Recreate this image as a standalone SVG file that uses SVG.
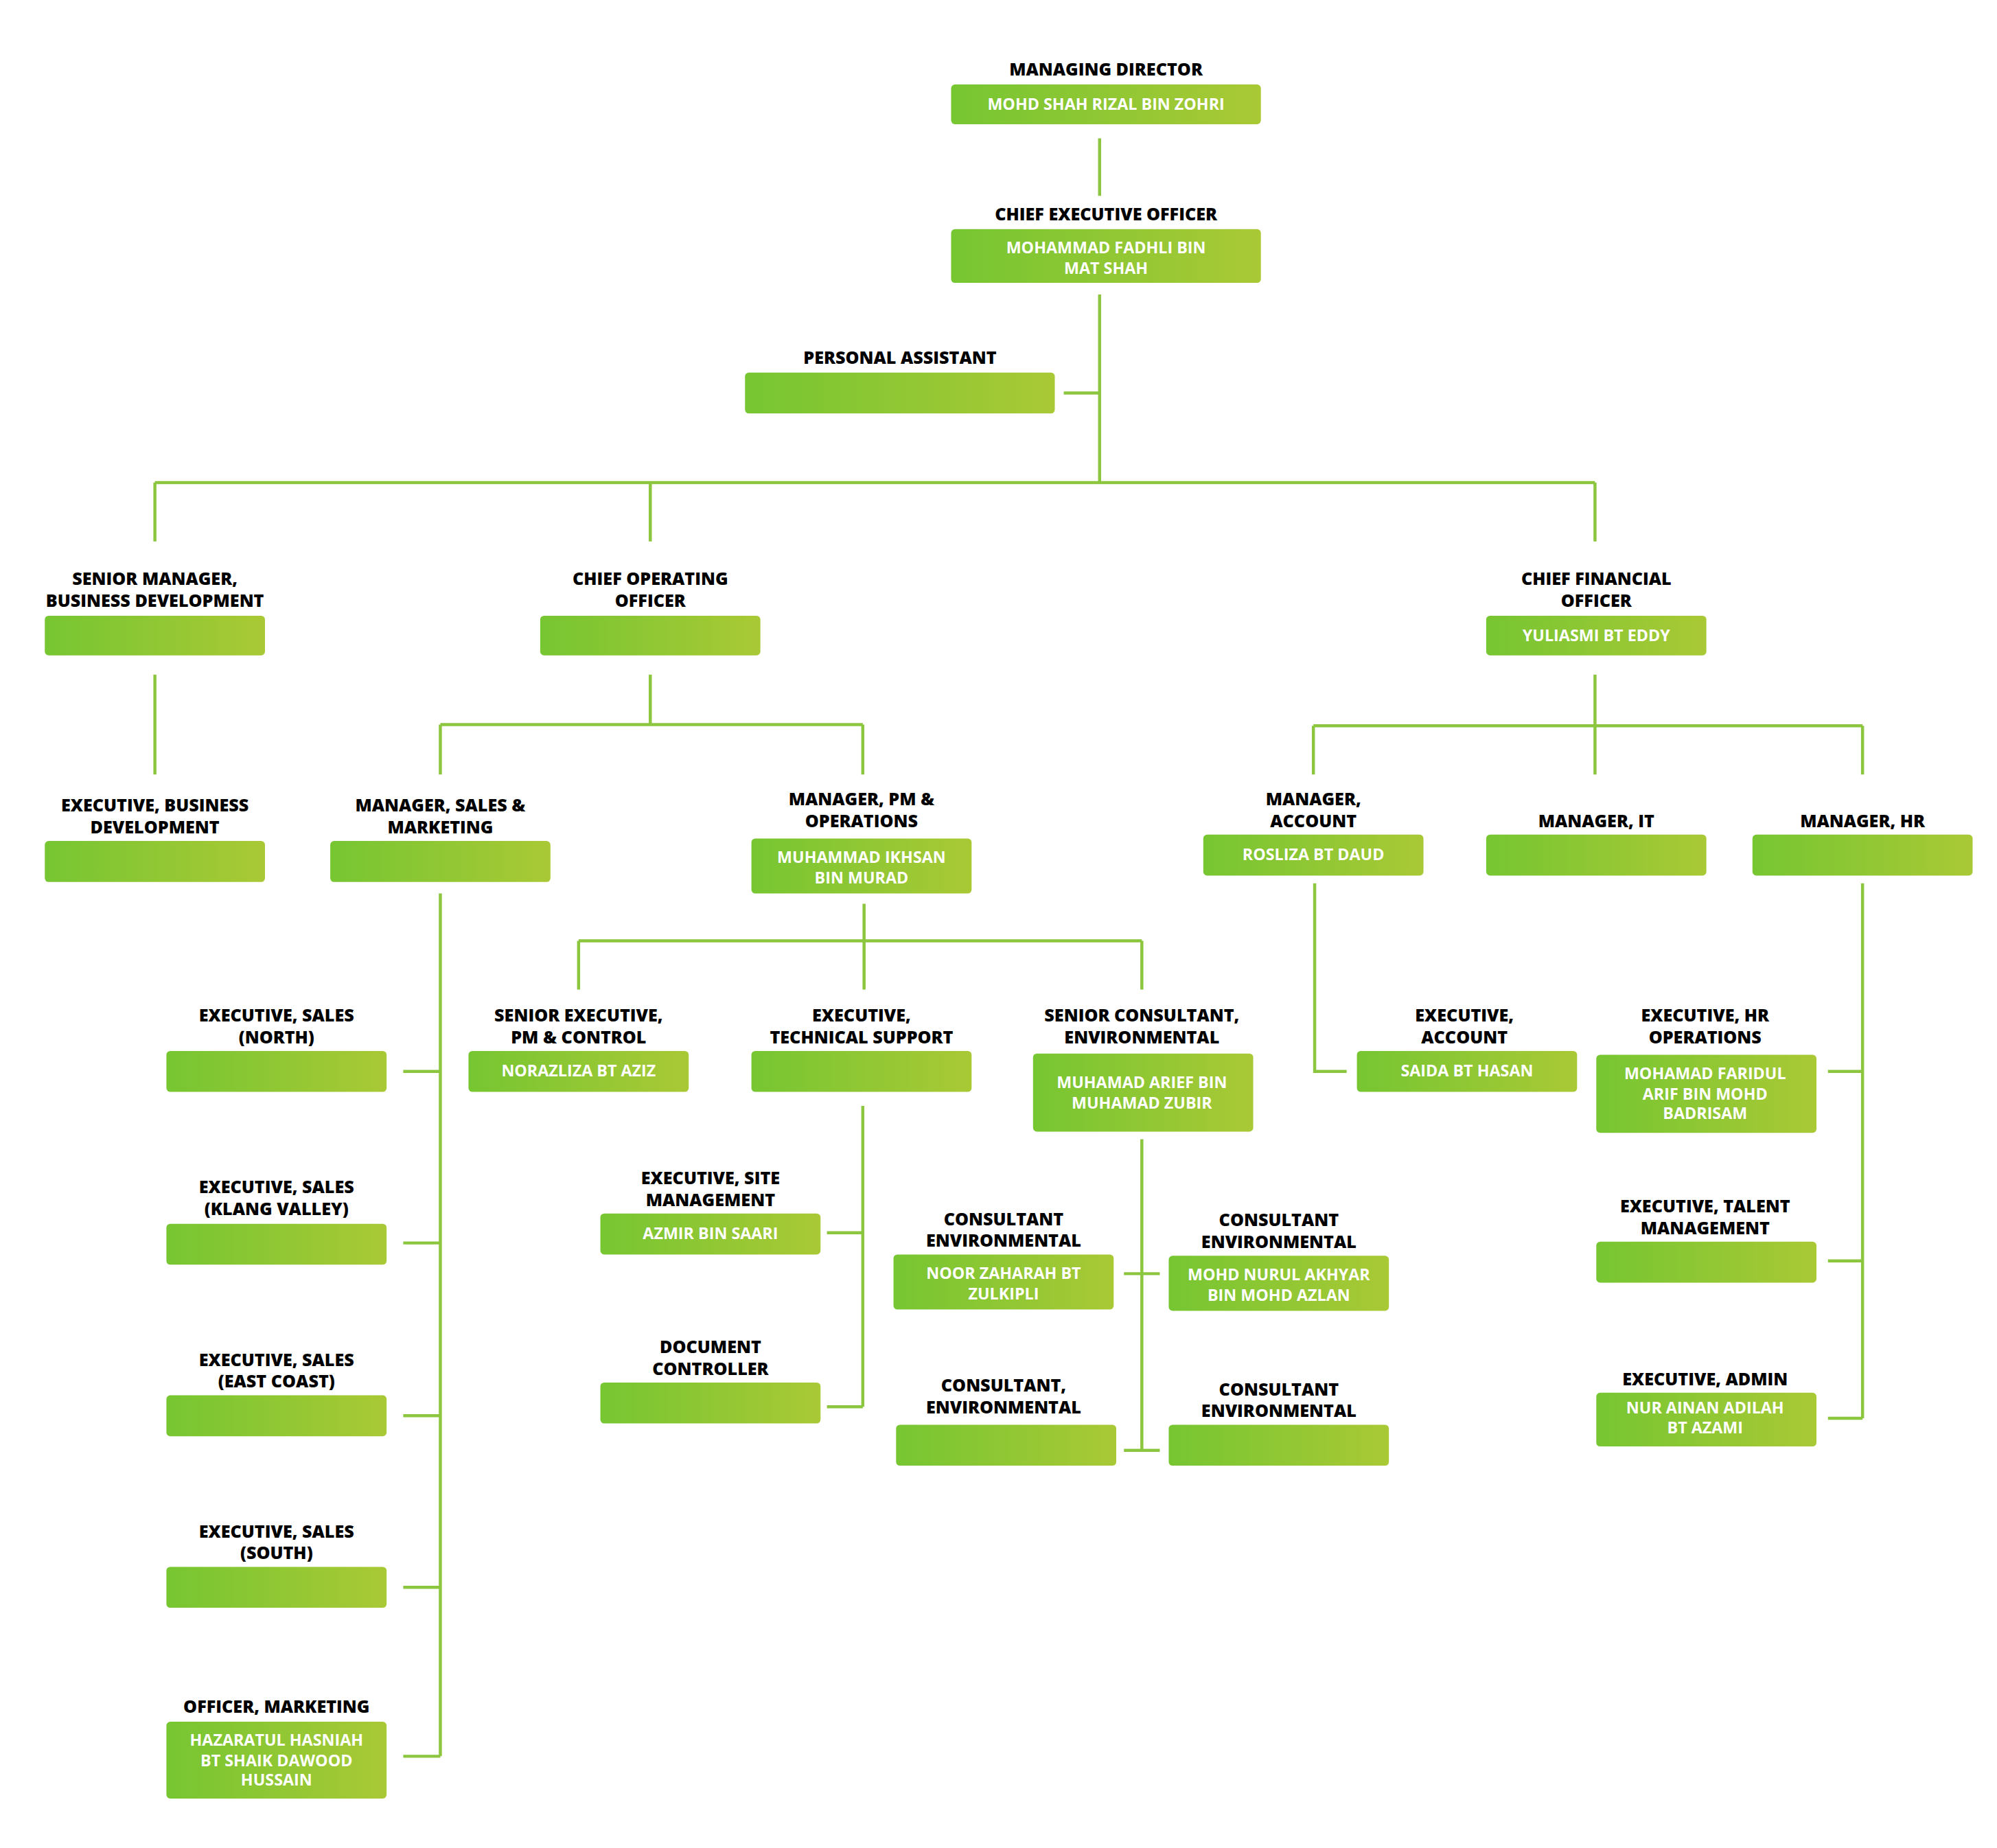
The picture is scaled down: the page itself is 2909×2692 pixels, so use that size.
<svg xmlns="http://www.w3.org/2000/svg" width="2909" height="2692" viewBox="0 0 2909 2692">
<defs>
<linearGradient id="g" x1="0" y1="0" x2="1" y2="0"><stop offset="0" stop-color="#76c632"/><stop offset="1" stop-color="#a9c935"/></linearGradient>
<style>
.b{fill:url(#g)}
.t{font-family:"Open Sans","Liberation Sans",sans-serif;font-weight:800;font-size:13.5px;fill:#000;text-anchor:middle}
.n{font-family:"Open Sans","Liberation Sans",sans-serif;font-weight:700;font-size:12.5px;fill:#fff;text-anchor:middle}
.c{fill:none;stroke:#8cc63f;stroke-width:2.4}
</style>
</defs>
<rect width="2909" height="2692" fill="#fff"/>
<g transform="scale(1.8647)">
<g id="connectors" class="c">
<path d="M859 108V153M859 230V377M831 307H859M121 377H1246M121 377V423M508 377V423M1246 377V423"/>
<path d="M121 527V605M508 527V566M344 566H674M344 566V605M674 566V605"/>
<path d="M1246 527V605M1026 567H1455M1026 567V605M1455 567V605"/>
<path d="M344 698V1372M315 837H344M315 971H344M315 1106H344M315 1240H344M315 1372H344"/>
<path d="M675 706V735M452 735H892M452 735V773M675 735V773M892 735V773"/>
<path d="M674 864V1099M646 963H674M646 1099H674"/>
<path d="M892 890V1133M878 995H906M878 1133H906"/>
<path d="M1027 690V837H1052"/>
<path d="M1455 690V1108M1428 837H1455M1428 985H1455M1428 1108H1455"/>
</g>
<g id="md"><text class="t" x="864" y="59">MANAGING DIRECTOR</text><rect class="b" x="743" y="66" width="242" height="31" rx="3"/><text class="n" x="864" y="86">MOHD SHAH RIZAL BIN ZOHRI</text></g>
<g id="ceo"><text class="t" x="864" y="172">CHIEF EXECUTIVE OFFICER</text><rect class="b" x="743" y="179" width="242" height="42" rx="3"/><text class="n" x="864" y="198">MOHAMMAD FADHLI BIN</text><text class="n" x="864" y="214">MAT SHAH</text></g>
<g id="pa"><text class="t" x="703" y="284">PERSONAL ASSISTANT</text><rect class="b" x="582" y="291" width="242" height="32" rx="3"/></g>
<g id="smbd"><text class="t" x="121" y="457">SENIOR MANAGER,</text><text class="t" x="121" y="474">BUSINESS DEVELOPMENT</text><rect class="b" x="35" y="481" width="172" height="31" rx="3"/></g>
<g id="coo"><text class="t" x="508" y="457">CHIEF OPERATING</text><text class="t" x="508" y="474">OFFICER</text><rect class="b" x="422" y="481" width="172" height="31" rx="3"/></g>
<g id="cfo"><text class="t" x="1247" y="457">CHIEF FINANCIAL</text><text class="t" x="1247" y="474">OFFICER</text><rect class="b" x="1161" y="481" width="172" height="31" rx="3"/><text class="n" x="1247" y="501">YULIASMI BT EDDY</text></g>
<g id="ebd"><text class="t" x="121" y="634">EXECUTIVE, BUSINESS</text><text class="t" x="121" y="651">DEVELOPMENT</text><rect class="b" x="35" y="657" width="172" height="32" rx="3"/></g>
<g id="msm"><text class="t" x="344" y="634">MANAGER, SALES &amp;</text><text class="t" x="344" y="651">MARKETING</text><rect class="b" x="258" y="657" width="172" height="32" rx="3"/></g>
<g id="mpm"><text class="t" x="673" y="629">MANAGER, PM &amp;</text><text class="t" x="673" y="646">OPERATIONS</text><rect class="b" x="587" y="655" width="172" height="43" rx="3"/><text class="n" x="673" y="674">MUHAMMAD IKHSAN</text><text class="n" x="673" y="690">BIN MURAD</text></g>
<g id="ma"><text class="t" x="1026" y="629">MANAGER,</text><text class="t" x="1026" y="646">ACCOUNT</text><rect class="b" x="940" y="652" width="172" height="32" rx="3"/><text class="n" x="1026" y="672">ROSLIZA BT DAUD</text></g>
<g id="mit"><text class="t" x="1247" y="646">MANAGER, IT</text><rect class="b" x="1161" y="652" width="172" height="32" rx="3"/></g>
<g id="mhr"><text class="t" x="1455" y="646">MANAGER, HR</text><rect class="b" x="1369" y="652" width="172" height="32" rx="3"/></g>
<g id="esn"><text class="t" x="216" y="798">EXECUTIVE, SALES</text><text class="t" x="216" y="815">(NORTH)</text><rect class="b" x="130" y="821" width="172" height="32" rx="3"/></g>
<g id="esk"><text class="t" x="216" y="932">EXECUTIVE, SALES</text><text class="t" x="216" y="949">(KLANG VALLEY)</text><rect class="b" x="130" y="956" width="172" height="32" rx="3"/></g>
<g id="ese"><text class="t" x="216" y="1067">EXECUTIVE, SALES</text><text class="t" x="216" y="1084">(EAST COAST)</text><rect class="b" x="130" y="1090" width="172" height="32" rx="3"/></g>
<g id="ess"><text class="t" x="216" y="1201">EXECUTIVE, SALES</text><text class="t" x="216" y="1218">(SOUTH)</text><rect class="b" x="130" y="1224" width="172" height="32" rx="3"/></g>
<g id="om"><text class="t" x="216" y="1338">OFFICER, MARKETING</text><rect class="b" x="130" y="1345" width="172" height="60" rx="3"/><text class="n" x="216" y="1364">HAZARATUL HASNIAH</text><text class="n" x="216" y="1380">BT SHAIK DAWOOD</text><text class="n" x="216" y="1395">HUSSAIN</text></g>
<g id="sepc"><text class="t" x="452" y="798">SENIOR EXECUTIVE,</text><text class="t" x="452" y="815">PM &amp; CONTROL</text><rect class="b" x="366" y="821" width="172" height="32" rx="3"/><text class="n" x="452" y="841">NORAZLIZA BT AZIZ</text></g>
<g id="ets"><text class="t" x="673" y="798">EXECUTIVE,</text><text class="t" x="673" y="815">TECHNICAL SUPPORT</text><rect class="b" x="587" y="821" width="172" height="32" rx="3"/></g>
<g id="sce"><text class="t" x="892" y="798">SENIOR CONSULTANT,</text><text class="t" x="892" y="815">ENVIRONMENTAL</text><rect class="b" x="807" y="823" width="172" height="61" rx="3"/><text class="n" x="892" y="850">MUHAMAD ARIEF BIN</text><text class="n" x="892" y="866">MUHAMAD ZUBIR</text></g>
<g id="esm"><text class="t" x="555" y="925">EXECUTIVE, SITE</text><text class="t" x="555" y="942">MANAGEMENT</text><rect class="b" x="469" y="948" width="172" height="32" rx="3"/><text class="n" x="555" y="968">AZMIR BIN SAARI</text></g>
<g id="dc"><text class="t" x="555" y="1057">DOCUMENT</text><text class="t" x="555" y="1074">CONTROLLER</text><rect class="b" x="469" y="1080" width="172" height="32" rx="3"/></g>
<g id="ce1"><text class="t" x="784" y="957">CONSULTANT</text><text class="t" x="784" y="974">ENVIRONMENTAL</text><rect class="b" x="698" y="980" width="172" height="43" rx="3"/><text class="n" x="784" y="999">NOOR ZAHARAH BT</text><text class="n" x="784" y="1015">ZULKIPLI</text></g>
<g id="ce2"><text class="t" x="999" y="958">CONSULTANT</text><text class="t" x="999" y="975">ENVIRONMENTAL</text><rect class="b" x="913" y="981" width="172" height="43" rx="3"/><text class="n" x="999" y="1000">MOHD NURUL AKHYAR</text><text class="n" x="999" y="1016">BIN MOHD AZLAN</text></g>
<g id="ce3"><text class="t" x="784" y="1087">CONSULTANT,</text><text class="t" x="784" y="1104">ENVIRONMENTAL</text><rect class="b" x="700" y="1113" width="172" height="32" rx="3"/></g>
<g id="ce4"><text class="t" x="999" y="1090">CONSULTANT</text><text class="t" x="999" y="1107">ENVIRONMENTAL</text><rect class="b" x="913" y="1113" width="172" height="32" rx="3"/></g>
<g id="ea"><text class="t" x="1144" y="798">EXECUTIVE,</text><text class="t" x="1144" y="815">ACCOUNT</text><rect class="b" x="1060" y="821" width="172" height="32" rx="3"/><text class="n" x="1146" y="841">SAIDA BT HASAN</text></g>
<g id="ehro"><text class="t" x="1332" y="798">EXECUTIVE, HR</text><text class="t" x="1332" y="815">OPERATIONS</text><rect class="b" x="1247" y="824" width="172" height="61" rx="3"/><text class="n" x="1332" y="843">MOHAMAD FARIDUL</text><text class="n" x="1332" y="859">ARIF BIN MOHD</text><text class="n" x="1332" y="874">BADRISAM</text></g>
<g id="etm"><text class="t" x="1332" y="947">EXECUTIVE, TALENT</text><text class="t" x="1332" y="964">MANAGEMENT</text><rect class="b" x="1247" y="970" width="172" height="32" rx="3"/></g>
<g id="eadm"><text class="t" x="1332" y="1082">EXECUTIVE, ADMIN</text><rect class="b" x="1247" y="1088" width="172" height="42" rx="3"/><text class="n" x="1332" y="1104">NUR AINAN ADILAH</text><text class="n" x="1332" y="1120">BT AZAMI</text></g>
</g>
</svg>
